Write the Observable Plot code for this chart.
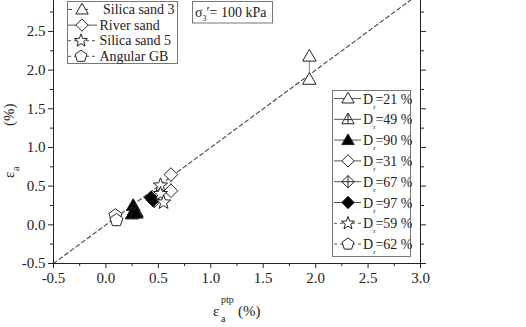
<!DOCTYPE html>
<html><head><meta charset="utf-8">
<script src="https://cdn.jsdelivr.net/npm/d3@7"></script>
<script src="https://cdn.jsdelivr.net/npm/@observablehq/plot@0.6"></script>
<style>
body{margin:0;background:#fff}
#chart{width:526px;height:327px;overflow:hidden}
#chart svg, #chart svg text{font-family:"Liberation Serif","Times New Roman",serif !important;font-variant:normal !important}
</style>
</head><body><div id="chart"></div>
<script>
// ---- data (x = eps_a^ptp %, y = eps_a %) ----
const dr21 = [[1.94, 2.18], [1.94, 1.88]];            // Silica sand 3, Dr=21 %
const dr49 = [[0.29, 0.17]];                          // Silica sand 3, Dr=49 %
const dr90 = [[0.26, 0.25], [0.27, 0.19], [0.25, 0.14], [0.29, 0.15]]; // Dr=90 %
const dr31 = [[0.62, 0.65], [0.62, 0.44]];            // River sand, Dr=31 %
const dr67 = [[0.46, 0.31]];                          // River sand, Dr=67 %
const dr97 = [[0.43, 0.35], [0.45, 0.32]];            // River sand, Dr=97 %
const dr59 = [[0.52, 0.51], [0.52, 0.40], [0.55, 0.29]]; // Silica sand 5, Dr=59 %
const dr62 = [[0.09, 0.12], [0.10, 0.06]];            // Angular GB, Dr=62 %
const oneToOne = [-0.5, 3.0];
const xMajor = [-0.5, 0, 0.5, 1.0, 1.5, 2.0, 2.5, 3.0];
const xMinor = [-0.25, 0.25, 0.75, 1.25, 1.75, 2.25, 2.75];
const yMajor = [-0.5, 0, 0.5, 1.0, 1.5, 2.0, 2.5];
const yMinor = [-0.25, 0.25, 0.75, 1.25, 1.75, 2.25, 2.75];
const materialLabels = ["Silica sand 3", "River sand", "Silica sand 5", "Angular GB"];
const drLabels = ["21", "49", "90", "31", "67", "97", "59", "62"];

// ---- symbols ----
function rad(size){ return Math.sqrt(size / Math.PI); }
const triPath = (c, r) => { c.moveTo(0, -r); c.lineTo(r, r*0.72); c.lineTo(-r, r*0.72); c.closePath(); };
const diaPath = (c, r) => { c.moveTo(0, -r); c.lineTo(r, 0); c.lineTo(0, r); c.lineTo(-r, 0); c.closePath(); };
const symTri = { draw(c, s){ triPath(c, rad(s)); } };
const symTriX = { draw(c, s){ const r = rad(s); triPath(c, r); c.moveTo(0, -r); c.lineTo(0, r*0.72); c.moveTo(-r*0.55, r*0.05); c.lineTo(r*0.55, r*0.05); } };
const symDia = { draw(c, s){ diaPath(c, rad(s)); } };
const symDiaX = { draw(c, s){ const r = rad(s); diaPath(c, r); c.moveTo(0, -r); c.lineTo(0, r); c.moveTo(-r, 0); c.lineTo(r, 0); } };
const symStar = { draw(c, s){ const R = rad(s)*1.1, q = R*0.42;
  for (let i = 0; i < 10; i++) { const a = -Math.PI/2 + i*Math.PI/5, rr = i%2 ? q : R;
    const x = rr*Math.cos(a), y = rr*Math.sin(a); i ? c.lineTo(x, y) : c.moveTo(x, y); }
  c.closePath(); } };
const symPent = { draw(c, s){ const R = rad(s);
  for (let i = 0; i < 5; i++) { const a = -Math.PI/2 + i*2*Math.PI/5;
    const x = R*Math.cos(a), y = R*Math.sin(a); i ? c.lineTo(x, y) : c.moveTo(x, y); }
  c.closePath(); } };

const series = [
  {pts: dr62, sym: symPent, fill: "white"},
  {pts: dr21, sym: symTri, fill: "white"},
  {pts: dr49, sym: symTriX, fill: "white"},
  {pts: dr90, sym: symTri, fill: "black"},
  {pts: dr31, sym: symDia, fill: "white"},
  {pts: dr67, sym: symDiaX, fill: "white"},
  {pts: dr97, sym: symDia, fill: "black"},
  {pts: dr59, sym: symStar, fill: "white"}
];

const FONT = "Liberation Serif, Times New Roman, serif";
const fmt = d => d.toFixed(1);
const ink = "#222";
const marks = [
  Plot.line(oneToOne, {x: d => d, y: d => d, stroke: "#444", strokeWidth: 1.1, strokeDasharray: "4,3", clip: true}),
  Plot.line(dr21, {x: d => d[0], y: d => d[1], stroke: "#666", strokeWidth: 0.8}),
  Plot.line(dr31, {x: d => d[0], y: d => d[1], stroke: "#666", strokeWidth: 0.8}),
  ...series.map(s => Plot.dot(s.pts, {x: d => d[0], y: d => d[1], symbol: s.sym, r: 6.8, fill: s.fill, stroke: ink, strokeWidth: 1})),
  Plot.axisY(yMajor, {tickSize: 5, tickPadding: 3, tickFormat: fmt, label: null, fontSize: 15, fontFamily: FONT}),
  Plot.axisY(yMinor, {tickSize: 3, tickFormat: () => "", label: null}),
  Plot.axisY(yMajor, {anchor: "right", tickSize: 5, tickFormat: () => "", label: null}),
  Plot.axisY(yMinor, {anchor: "right", tickSize: 3, tickFormat: () => "", label: null}),
  Plot.axisX(xMajor, {tickSize: 5, tickPadding: 4, tickFormat: fmt, label: null, fontSize: 15, fontFamily: FONT}),
  Plot.axisX(xMinor, {tickSize: 3, tickFormat: () => "", label: null}),
  Plot.ruleX([-0.5, 3.0], {stroke: ink, strokeWidth: 1}),
  Plot.ruleY([-0.5], {stroke: ink, strokeWidth: 1})
];

const svg = Plot.plot({
  width: 526, height: 327,
  marginLeft: 53, marginRight: 106, marginTop: 0, marginBottom: 64,
  x: {domain: [-0.5, 3.0]},
  y: {domain: [-0.5, 2.9]},
  style: {fontFamily: FONT, fontSize: "14px", color: ink, background: "white"},
  marks
});
document.getElementById("chart").appendChild(svg);

// ---- annotations & legends ----
const g = d3.select(svg).append("g").attr("font-family", FONT).attr("fill", ink).attr("text-anchor", "start");
const sym = (t, r) => d3.symbol().type(t).size(Math.PI*r*r)();

// x title
const xt = g.append("text").attr("font-size", 15).attr("y", 316);
xt.append("tspan").attr("x", 213).text("ε");
xt.append("tspan").attr("x", 221).attr("dy", 6).attr("font-size", 10).text("a");
xt.append("tspan").attr("x", 221).attr("dy", -19).attr("font-size", 10).text("ptp");
xt.append("tspan").attr("x", 238).attr("dy", 13).text("(%)");

// y title
const yt = g.append("text").attr("font-size", 15).attr("transform", "translate(14,178) rotate(-90)");
yt.append("tspan").attr("x", 0).text("ε");
yt.append("tspan").attr("x", 7).attr("dy", 5).attr("font-size", 10).text("a");
yt.append("tspan").attr("x", 52).attr("dy", -5).text("(%)");

// material legend
g.append("rect").attr("x", 67.5).attr("y", 1.5).attr("width", 110).attr("height", 62).attr("fill", "white").attr("stroke", "#777");
const matSyms = [symTri, symDia, symStar, symPent];
const matDash = ["4,12", null, "3,3", "3,3"];
materialLabels.forEach((lab, i) => {
  const cy = 9.5 + i*15.6;
  g.append("line").attr("x1", 68).attr("x2", 97).attr("y1", cy).attr("y2", cy).attr("stroke", "#555").attr("stroke-dasharray", matDash[i]);
  g.append("path").attr("d", sym(matSyms[i], 6.2)).attr("transform", `translate(${i < 2 ? 82 : 81},${cy})`).attr("fill", "white").attr("stroke", ink);
  g.append("text").attr("x", i === 0 ? 103 : 99.5).attr("y", cy + 4.5).attr("font-size", 14).text(lab);
});

// confining pressure box
g.append("rect").attr("x", 192.5).attr("y", 1.5).attr("width", 80).attr("height", 21.5).attr("fill", "white").attr("stroke", "#777");
const st = g.append("text").attr("font-size", 14).attr("y", 17);
st.append("tspan").attr("x", 195).text("σ");
st.append("tspan").attr("dy", 4).attr("font-size", 8).text("3");
st.append("tspan").attr("dy", -4).text("′= 100 kPa");

// Dr legend
g.append("rect").attr("x", 332.5).attr("y", 90.5).attr("width", 78).attr("height", 166).attr("fill", "white").attr("stroke", "#777");
const drSyms = [symTri, symTriX, symTri, symDia, symDiaX, symDia, symStar, symPent];
const drFill = ["white", "white", "black", "white", "white", "black", "white", "white"];
drLabels.forEach((lab, i) => {
  const cy = 98.5 + i*20.8;
  g.append("line").attr("x1", 334).attr("x2", 361).attr("y1", cy).attr("y2", cy).attr("stroke", "#555").attr("stroke-dasharray", i >= 6 ? "3,3" : null);
  g.append("path").attr("d", sym(drSyms[i], 6.2)).attr("transform", `translate(348,${cy})`).attr("fill", drFill[i]).attr("stroke", ink);
  const t = g.append("text").attr("x", 363).attr("y", cy + 5).attr("font-size", 14);
  t.append("tspan").text("D");
  t.append("tspan").attr("dy", 5).attr("font-size", 7).text("r");
  t.append("tspan").attr("dy", -5).text("=" + lab + " %");
});
</script></body></html>
